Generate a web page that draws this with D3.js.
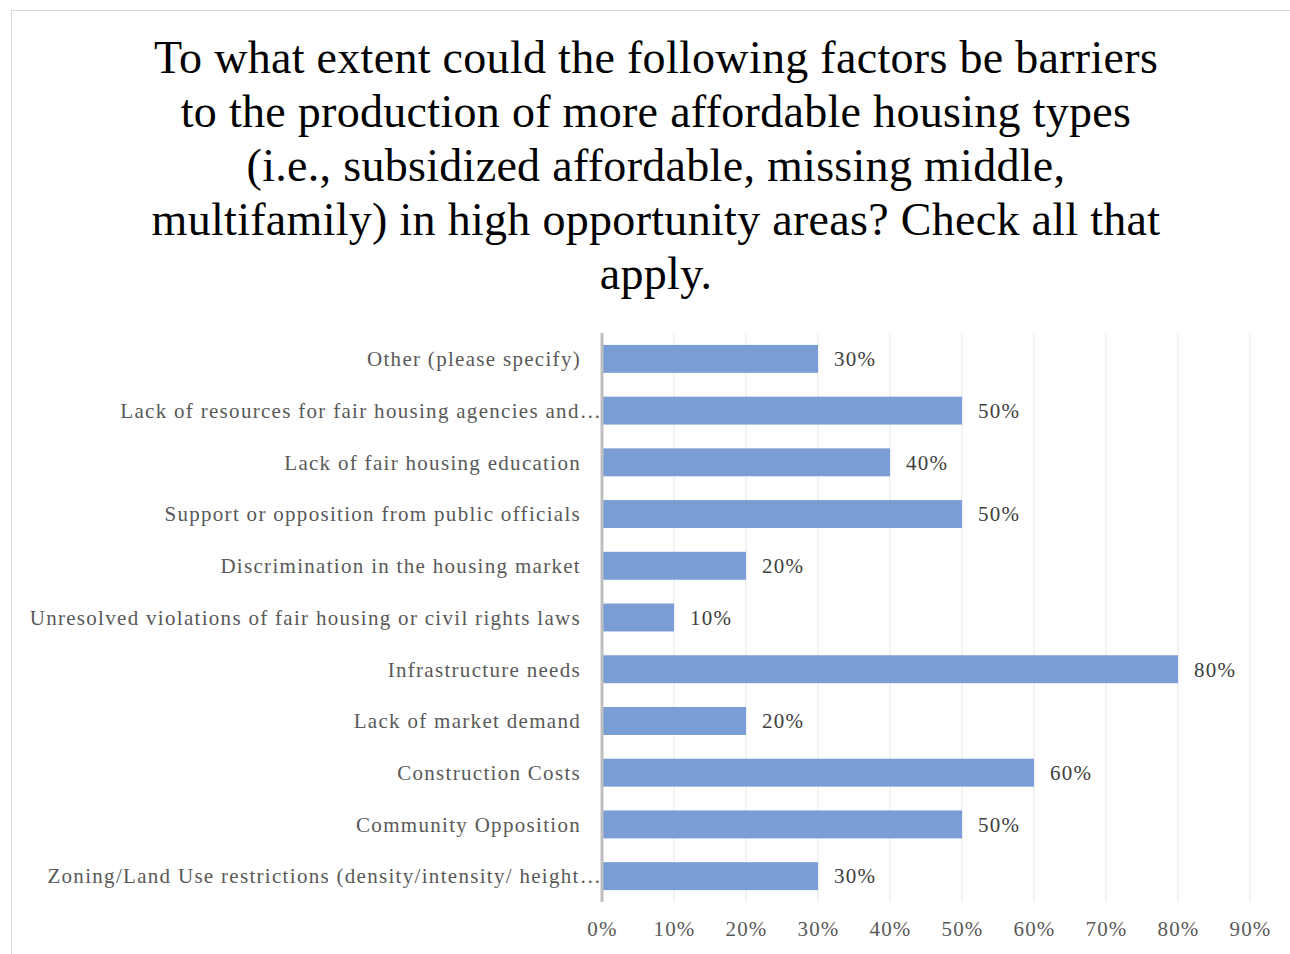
<!DOCTYPE html>
<html>
<head>
<meta charset="utf-8">
<script src="https://cdn.jsdelivr.net/npm/d3@7"></script>
<style>
  html, body { margin: 0; padding: 0; background: #fff; }
  svg { display: block; }
  text { font-family: "Liberation Serif", "DejaVu Serif", serif; }
</style>
</head>
<body>
<svg id="chart" width="1290" height="954"></svg>
<script>
// Survey responses, listed top to bottom as shown
const categories = [
  "Other (please specify)",
  "Lack of resources for fair housing agencies and…",
  "Lack of fair housing education",
  "Support or opposition from public officials",
  "Discrimination in the housing market",
  "Unresolved violations of fair housing or civil rights laws",
  "Infrastructure needs",
  "Lack of market demand",
  "Construction Costs",
  "Community Opposition",
  "Zoning/Land Use restrictions (density/intensity/ height…"
];
const values = [0.30, 0.50, 0.40, 0.50, 0.20, 0.10, 0.80, 0.20, 0.60, 0.50, 0.30];
const truncated = [false, true, false, false, false, false, false, false, false, false, true];
const tickValues = [0, 0.1, 0.2, 0.3, 0.4, 0.5, 0.6, 0.7, 0.8, 0.9];
const titleLines = [
  "To what extent could the following factors be barriers",
  "to the production of more affordable housing types",
  "(i.e., subsidized affordable, missing middle,",
  "multifamily) in high opportunity areas? Check all that",
  "apply."
];

const svg = d3.select("#chart");

// chart frame
svg.append("rect")
  .attr("x", 11.5).attr("y", 10.5)
  .attr("width", 1300).attr("height", 960)
  .attr("fill", "#fff").attr("stroke", "#d9d9d9").attr("stroke-width", 1);

// title
const title = svg.append("text")
  .attr("text-anchor", "middle")
  .attr("font-size", 46)
  .attr("letter-spacing", 0.3)
  .attr("fill", "#000");
titleLines.forEach((line, i) => {
  title.append("tspan").attr("x", 656).attr("y", 73 + i * 54).text(line);
});

const plot = { left: 602, right: 1250, top: 333, bottom: 902 };

const x = d3.scaleLinear().domain([0, 0.9]).range([plot.left, plot.right]);
const y = d3.scaleBand().domain(categories).range([plot.top, plot.bottom]).paddingInner(0.46).paddingOuter(0.23);

// vertical gridlines
svg.append("g")
  .selectAll("line")
  .data(tickValues.slice(1))
  .join("line")
  .attr("x1", d => x(d)).attr("x2", d => x(d))
  .attr("y1", plot.top).attr("y2", plot.bottom)
  .attr("stroke", "#e6e6e6").attr("stroke-width", 1);

// bars
svg.append("g")
  .selectAll("rect")
  .data(values)
  .join("rect")
  .attr("x", x(0))
  .attr("y", (d, i) => y(categories[i]))
  .attr("width", d => x(d) - x(0))
  .attr("height", y.bandwidth())
  .attr("fill", "#7a9dd6");

// value labels
svg.append("g")
  .selectAll("text")
  .data(values)
  .join("text")
  .attr("x", d => x(d) + 16)
  .attr("y", (d, i) => y(categories[i]) + y.bandwidth() / 2)
  .attr("dy", "0.35em")
  .attr("font-size", 21)
  .attr("letter-spacing", 1.3)
  .attr("fill", "#404040")
  .text(d => d3.format(".0%")(d));

// category axis line
svg.append("line")
  .attr("x1", x(0)).attr("x2", x(0))
  .attr("y1", plot.top).attr("y2", plot.bottom)
  .attr("stroke", "#bfbfbf").attr("stroke-width", 3);

// category labels
svg.append("g")
  .selectAll("text")
  .data(categories)
  .join("text")
  .attr("x", (d, i) => truncated[i] ? 602 : 581)
  .attr("y", d => y(d) + y.bandwidth() / 2)
  .attr("dy", "0.35em")
  .attr("text-anchor", "end")
  .attr("font-size", 21)
  .attr("letter-spacing", 1.3)
  .attr("fill", "#595959")
  .text(d => d);

// value axis tick labels
const xAxis = d3.axisBottom(x).tickValues(tickValues).tickFormat(d3.format(".0%")).tickSize(0).tickPadding(0);
const gx = svg.append("g").attr("transform", `translate(0, ${plot.bottom})`).call(xAxis);
gx.select(".domain").remove();
gx.selectAll("text")
  .attr("font-family", "Liberation Serif, DejaVu Serif, serif")
  .attr("font-size", 21)
  .attr("letter-spacing", 1.2)
  .attr("fill", "#595959")
  .attr("dy", null)
  .attr("y", 34);
</script>
</body>
</html>
